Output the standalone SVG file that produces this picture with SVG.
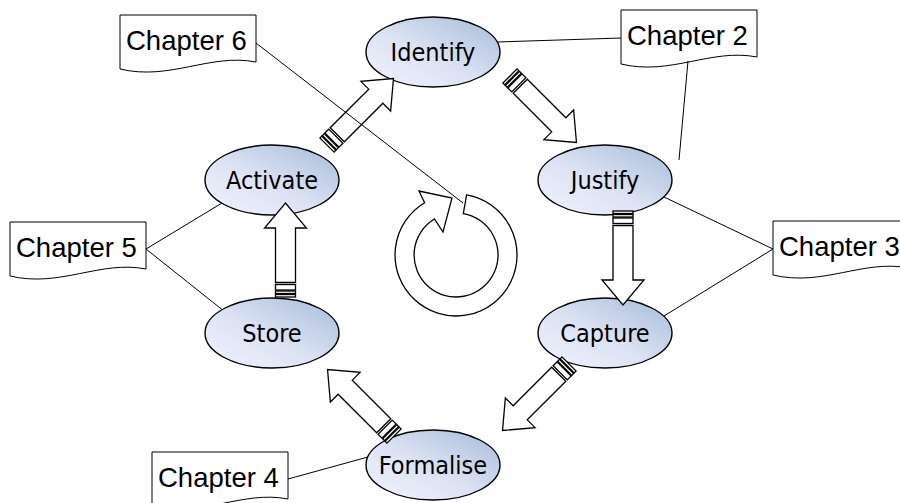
<svg xmlns="http://www.w3.org/2000/svg" xmlns:xlink="http://www.w3.org/1999/xlink" width="900" height="503" viewBox="0 0 900 503">
  <style>
    .node ellipse { fill: url(#nodeFill); stroke: #000; stroke-width: 1.4; }
    .node text { font-family: "DejaVu Sans Condensed", "DejaVu Sans", sans-serif; font-stretch: condensed; font-size: 25px; fill: #000; text-anchor: middle; }
    .doc path { fill: #fff; stroke: #000; stroke-width: 1; }
    .doc text { font-family: "Liberation Sans", Arial, sans-serif; font-size: 27.5px; fill: #000; }
    .link { stroke: #000; stroke-width: 1; fill: none; }
    .block { fill: #fff; stroke: #000; stroke-width: 1.3; stroke-linejoin: miter; }
  </style>
  <defs>
    <linearGradient id="nodeFill" x1="0" y1="1" x2="1" y2="0">
      <stop offset="0" stop-color="#f1f2fd"/>
      <stop offset="0.45" stop-color="#dde3f4"/>
      <stop offset="1" stop-color="#a6bbd9"/>
    </linearGradient>
    <!-- block arrow pointing along +x: striped tail at 0, tip at 94 -->
    <g id="blockArrow" class="block">
      <rect x="0" y="-10" width="2.5" height="20"/>
      <rect x="3.5" y="-10" width="2.5" height="20"/>
      <rect x="7" y="-10" width="5.5" height="20"/>
      <path d="M14.5,-10 H69 V-21 L94,0 L69,21 V10 H14.5 Z"/>
    </g>
  </defs>

  <rect width="900" height="503" fill="#fff"/>

  <!-- chapter documents -->
  <g id="chapter6" class="doc">
    <path d="M120,15 H256 V62 C210,53 170,81 120,69 Z"/>
    <text x="126" y="50">Chapter 6</text>
  </g>
  <g id="chapter2" class="doc">
    <path d="M621,10 H757 V57 C711,48 671,76 621,64 Z"/>
    <text x="627" y="45">Chapter 2</text>
  </g>
  <g id="chapter5" class="doc">
    <path d="M10,222 H146 V269 C100,260 60,288 10,276 Z"/>
    <text x="16" y="257">Chapter 5</text>
  </g>
  <g id="chapter3" class="doc">
    <path d="M773,221 H909 V268 C863,259 823,287 773,275 Z"/>
    <text x="779" y="256">Chapter 3</text>
  </g>
  <g id="chapter4" class="doc">
    <path d="M152,452 H288 V499 C242,490 202,518 152,506 Z"/>
    <text x="158" y="487">Chapter 4</text>
  </g>

  <!-- cycle nodes -->
  <g id="identify" class="node">
    <ellipse cx="433" cy="52" rx="67" ry="35"/>
    <text x="433" y="61">Identify</text>
  </g>
  <g id="justify" class="node">
    <ellipse cx="605" cy="180" rx="67" ry="35"/>
    <text x="605" y="189">Justify</text>
  </g>
  <g id="capture" class="node">
    <ellipse cx="605" cy="333" rx="67" ry="35"/>
    <text x="605" y="342">Capture</text>
  </g>
  <g id="formalise" class="node">
    <ellipse cx="433" cy="465" rx="67" ry="35"/>
    <text x="433" y="474">Formalise</text>
  </g>
  <g id="store" class="node">
    <ellipse cx="272" cy="333" rx="67" ry="35"/>
    <text x="272" y="342">Store</text>
  </g>
  <g id="activate" class="node">
    <ellipse cx="272" cy="180" rx="67" ry="35"/>
    <text x="272" y="189">Activate</text>
  </g>

  <!-- circular "cycle" arrow in the middle -->
  <g id="cycle">
    <path class="block" d="M466.6,194.9 A61,61 0 1 1 424.6,202.7 L419,191 L452,198 L443,232 L434.4,219 A42,42 0 1 0 463.3,213.6 Z"/>
  </g>

  <g id="connectors">
    <!-- block arrows between stages -->
    <use xlink:href="#blockArrow" transform="translate(510,76) rotate(45)"/>
    <use xlink:href="#blockArrow" transform="translate(623,211) rotate(90)"/>
    <use xlink:href="#blockArrow" transform="translate(569,364) rotate(135)"/>
    <use xlink:href="#blockArrow" transform="translate(394,436) rotate(-135)"/>
    <use xlink:href="#blockArrow" transform="translate(285.5,297) rotate(-90)"/>
    <use xlink:href="#blockArrow" transform="translate(327,145) rotate(-45)"/>
    <!-- chapter references -->
    <line class="link" x1="256" y1="43" x2="463" y2="203"/>
    <line class="link" x1="497" y1="42" x2="621" y2="38"/>
    <line class="link" x1="688" y1="61" x2="679" y2="160"/>
    <line class="link" x1="773" y1="249" x2="664" y2="197"/>
    <line class="link" x1="773" y1="249" x2="664" y2="316"/>
    <line class="link" x1="146" y1="249" x2="222" y2="203"/>
    <line class="link" x1="146" y1="249" x2="222" y2="309.5"/>
    <line class="link" x1="288" y1="479" x2="368" y2="457"/>
  </g>
</svg>
